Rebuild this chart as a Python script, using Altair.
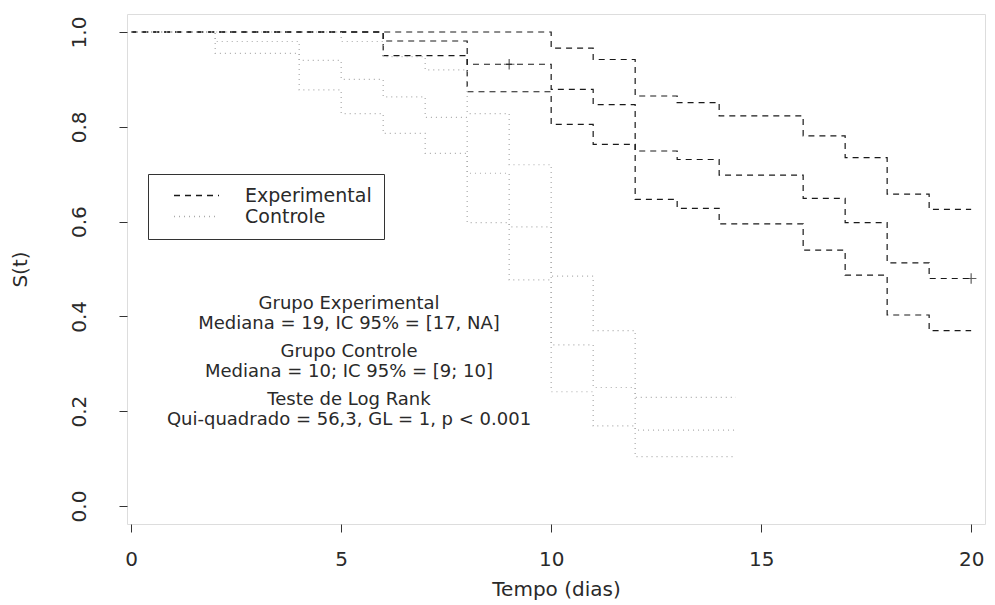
import altair as alt
import pandas as pd

# ---- data ----
exp_t     = [0, 6, 8, 10, 11, 12, 13, 14, 16, 17, 18, 19, 20]
exp_surv  = [1.0, 0.981, 0.932, 0.879, 0.847, 0.749, 0.731, 0.698, 0.649, 0.598, 0.513, 0.480, 0.480]
exp_upper = [1.0, 1.0, 1.0, 0.966, 0.942, 0.865, 0.851, 0.823, 0.781, 0.735, 0.658, 0.626, 0.626]
exp_lower = [1.0, 0.950, 0.874, 0.805, 0.763, 0.647, 0.628, 0.595, 0.540, 0.487, 0.403, 0.370, 0.370]

ctl_t     = [0, 2, 4, 5, 6, 7, 8, 9, 10, 11, 12, 14.4]
ctl_surv  = [1.0, 0.98, 0.94, 0.90, 0.863, 0.82, 0.702, 0.589, 0.34, 0.25, 0.16, 0.16]
ctl_upper = [1.0, 1.0, 1.0, 0.98, 0.948, 0.92, 0.828, 0.72, 0.485, 0.37, 0.229, 0.229]
ctl_lower = [1.0, 0.955, 0.878, 0.828, 0.786, 0.744, 0.598, 0.477, 0.241, 0.169, 0.104, 0.104]

censor_t = [9, 20]
censor_s = [0.932, 0.480]

groups = ["Experimental", "Controle"]
x_ticks = [0, 5, 10, 15, 20]
y_ticks = [0.0, 0.2, 0.4, 0.6, 0.8, 1.0]

anno_lines = [
    "Grupo Experimental",
    "Mediana = 19, IC 95% = [17, NA]",
    "Grupo Controle",
    "Mediana = 10; IC 95% = [9; 10]",
    "Teste de Log Rank",
    "Qui-quadrado = 56,3, GL = 1, p < 0.001",
]

# ---- build long table ----
rows = []
for g, t, curves in [
    ("Experimental", exp_t, {"est": exp_surv, "up": exp_upper, "lo": exp_lower}),
    ("Controle", ctl_t, {"est": ctl_surv, "up": ctl_upper, "lo": ctl_lower}),
]:
    for name, vals in curves.items():
        for ti, si in zip(t, vals):
            rows.append({"grupo": g, "curva": g + "_" + name, "t": ti, "s": si})
df = pd.DataFrame(rows)
cens = pd.DataFrame({"t": censor_t, "s": censor_s})

FONT = "DejaVu Sans"
TXT = "#2a2a2a"

xscale = alt.Scale(domain=[-0.1, 20.33], nice=False, zero=False)
yscale = alt.Scale(domain=[-0.038, 1.038], nice=False, zero=False)

lines = alt.Chart(df).mark_line(interpolate="step-after", strokeWidth=1.2).encode(
    x=alt.X("t:Q", scale=xscale,
            axis=alt.Axis(values=x_ticks, title="Tempo (dias)", format="d",
                          labelFontSize=20, titleFontSize=20, tickSize=8,
                          labelPadding=17, titlePadding=10, domain=False,
                          grid=False, labelFont=FONT, titleFont=FONT,
                          labelColor=TXT, titleColor=TXT, tickColor="#333",
                          titleFontWeight="normal")),
    y=alt.Y("s:Q", scale=yscale,
            axis=alt.Axis(values=y_ticks, title="S(t)", format=".1f",
                          labelAngle=270, labelAlign="center", labelBaseline="bottom",
                          labelFontSize=20, titleFontSize=20, tickSize=8,
                          labelPadding=30, titlePadding=39, domain=False,
                          grid=False, labelFont=FONT, titleFont=FONT,
                          labelColor=TXT, titleColor=TXT, tickColor="#333",
                          titleFontWeight="normal")),
    color=alt.Color("grupo:N",
                    scale=alt.Scale(domain=groups, range=["#1a1a1a", "#aaaaaa"]),
                    legend=alt.Legend(title=None, orient="none", legendX=21, legendY=160,
                                      symbolType="M0.6,0H6.6", symbolSize=225,
                                      symbolStrokeWidth=1.3, labelOffset=66,
                                      labelFont=FONT, labelFontSize=19, labelColor=TXT,
                                      strokeColor="#333", padding=12, rowPadding=1,
                                      labelLimit=300)),
    strokeDash=alt.StrokeDash("grupo:N",
                              scale=alt.Scale(domain=groups, range=[[6, 5], [1, 4]]),
                              legend=None),
    detail="curva:N",
)

marks = alt.Chart(cens).mark_point(shape="M-1,0H1M0,-1V1", size=110, filled=False,
                                   color="#1a1a1a", strokeWidth=1.2).encode(
    x=alt.X("t:Q", scale=xscale),
    y=alt.Y("s:Q", scale=yscale),
)

anno_y = [290, 310, 338, 358, 386, 406]
texts = []
for line, yy in zip(anno_lines, anno_y):
    texts.append(
        alt.Chart(pd.DataFrame({"a": [0]})).mark_text(
            font=FONT, fontSize=18, color=TXT, align="center", baseline="middle"
        ).encode(x=alt.value(222), y=alt.value(yy), text=alt.value(line))
    )

chart = alt.layer(lines, marks, *texts).properties(
    width=858, height=510,
    autosize=alt.AutoSizeParams(type="none"),
    padding={"left": 119, "top": 6, "right": 2, "bottom": 80},
).configure_view(stroke="#333", strokeWidth=1).configure(background="white")

chart.save("out.html", embed_options={"renderer": "svg", "actions": False})
